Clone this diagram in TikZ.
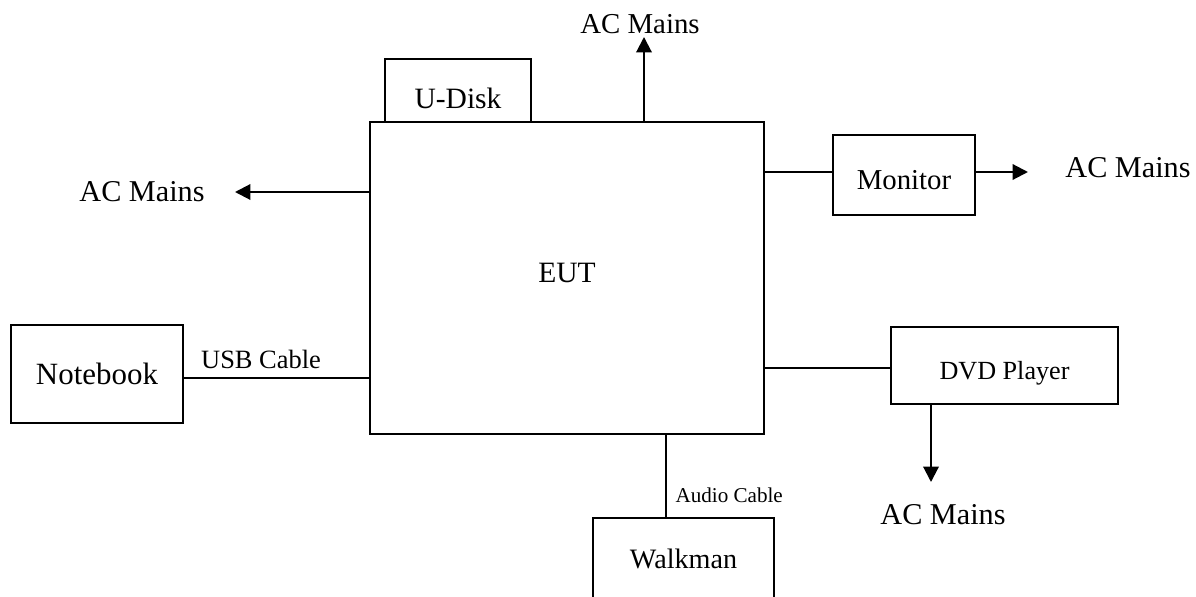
\documentclass[tikz,border=0pt]{standalone}
\usepackage{fontspec}
\setmainfont{Liberation Serif}
\usetikzlibrary{arrows.meta, positioning}

\begin{document}
\begin{tikzpicture}[x=0.025cm, y=-0.025cm,
    box/.style={rectangle, draw=black, line width=1.1pt, inner sep=0pt, font=\fontsize{21}{24}\selectfont},
    wire/.style={line width=1pt},
    feed/.style={line width=1.5pt, -{Triangle[length=11pt, width=11pt]}},
    mains/.style={inner sep=0pt, font=\fontsize{21.5}{24}\selectfont}
]
\useasboundingbox (0,0) rectangle (1196,597);

% Equipment under test and the units round it
\node[box, minimum width=9.85cm, minimum height=7.8cm, text depth=7pt] (eut) at (567,278) {EUT};
\node[box, minimum width=3.65cm, minimum height=1.575cm, text height=25.5pt, text depth=0pt] (uDisk) at (458,90.5) {U-Disk};
\node[box, minimum width=3.55cm, minimum height=2cm, font=\fontsize{20.5}{24}\selectfont, text height=21pt, text depth=0pt] (monitor) at (904,175) {Monitor};
\node[box, minimum width=4.3cm, minimum height=2.45cm, font=\fontsize{22}{24}\selectfont] (notebook) at (97,374) {Notebook};
\node[box, minimum width=4.525cm, minimum height=2.05cm, font=\fontsize{20}{24}\selectfont] (walkman) at (683.5,559) {Walkman};
\node[box, minimum width=5.675cm, minimum height=1.925cm, font=\fontsize{18.6}{22}\selectfont, text height=24pt, text depth=4pt] (dvd) at (1004.5,365.5) {DVD Player};

% Mains labels
\node[mains, font=\fontsize{20.5}{24}\selectfont] (acTop) at (640,24) {AC Mains};
\node[mains] (acLeft) at (142,192) {AC Mains};
\node[mains] (acMonitor) at (1128,168) {AC Mains};
\node[mains] (acDvd) at (943,515) {AC Mains};

% Power feeds
\coordinate (topTip) at (644,37);
\draw[feed] (eut.north -| topTip) -- (topTip);
\coordinate (leftTip) at (235,192);
\draw[feed] (eut.west |- leftTip) -- (leftTip);
\coordinate (monTip) at (1028,172);
\draw[feed] (monitor.east |- monTip) -- (monTip);
\coordinate (dvdTip) at (931,482);
\draw[feed] (dvd.south -| dvdTip) -- (dvdTip);

% Signal cables
\draw[wire] (eut.east |- monTip) -- (monitor.west |- monTip);
\draw[wire] (notebook.east) ++(0,4) coordinate (usbEnd) -- (eut.west |- usbEnd)
    node[midway, above=3pt, font=\fontsize{18.8}{22}\selectfont, xshift=-11pt] {USB Cable};
\coordinate (audioPort) at ([xshift=2.475cm]eut.south);
\draw[wire] (audioPort) -- (audioPort |- walkman.north)
    node[pos=0.73, anchor=west, xshift=3pt, font=\fontsize{15}{18}\selectfont] {Audio Cable};
\draw[wire] (eut.east |- 0,368) coordinate (dvdPort) -- (dvd.west |- dvdPort);
\end{tikzpicture}
\end{document}
